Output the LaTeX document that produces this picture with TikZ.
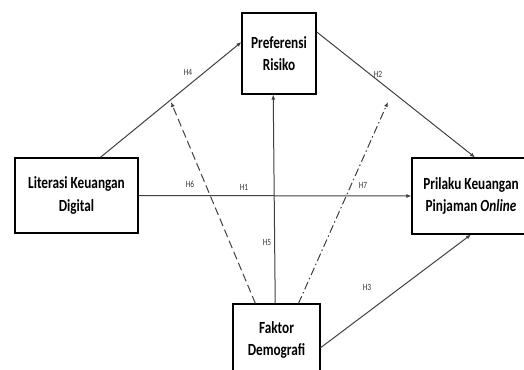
\documentclass[tikz,border=0pt]{standalone}
\usepackage{fontspec}
\setmainfont{Carlito}[FakeStretch=0.78]
\usetikzlibrary{arrows.meta}
\begin{document}
\begin{tikzpicture}[x=1pt, y=-1pt,
    box/.style={draw=black, line width=1.1pt, fill=white, align=center, inner sep=0pt,
        font=\fontsize{17}{22.5}\selectfont\bfseries},
    arr/.style={-{Latex[length=5pt,width=4pt]}, draw=black!75, line width=1pt},
    lbl/.style={inner sep=0pt, font=\fontsize{9.5}{10}\selectfont, text=black!80}]
    \clip (0,0) rectangle (524,369);
    \useasboundingbox (0,0) rectangle (524,369);
    % Boxes
    \node[box, minimum width=74pt, minimum height=81pt]  (pref) at (279,53.5)  {Preferensi\\Risiko};
    \node[box, minimum width=123pt, minimum height=75pt] (lit)  at (76.5,195.5) {Literasi Keuangan\\Digital};
    \node[box, minimum width=118pt, minimum height=76pt] (pril) at (471,196)   {Prilaku Keuangan\\Pinjaman \textit{Online}};
    \node[box, minimum width=87pt, minimum height=72pt]  (fak)  at (276.5,340) {Faktor\\Demografi};
    % Free ends of the moderating paths
    \coordinate (m6) at (171,102);
    \coordinate (m7) at (388,102);
    % Arrows
    \draw[arr] (lit.58) -- (pref.163);
    \draw[arr] (pref.30) -- (pril.84);
    \draw[arr] (lit.east) -- (pril.west);
    \draw[arr] (fak.92) -- (pref.262);
    \draw[arr] (fak.-10) -- (pril.south);
    \draw[arr, dash pattern=on 8pt off 4pt] (fak.120) -- (m6);
    \draw[arr, dash pattern=on 8pt off 3pt on 1.5pt off 3pt] (fak.59) -- (m7);
    % Labels
    \node[lbl] (h4) at (188,72)  {H4};
    \node[lbl] (h2) at (378,74)  {H2};
    \node[lbl] (h1) at (244,187) {H1};
    \node[lbl] (h6) at (190,184) {H6};
    \node[lbl] (h7) at (363,185) {H7};
    \node[lbl] (h5) at (267,242) {H5};
    \node[lbl] (h3) at (367,287) {H3};
\end{tikzpicture}
\end{document}
